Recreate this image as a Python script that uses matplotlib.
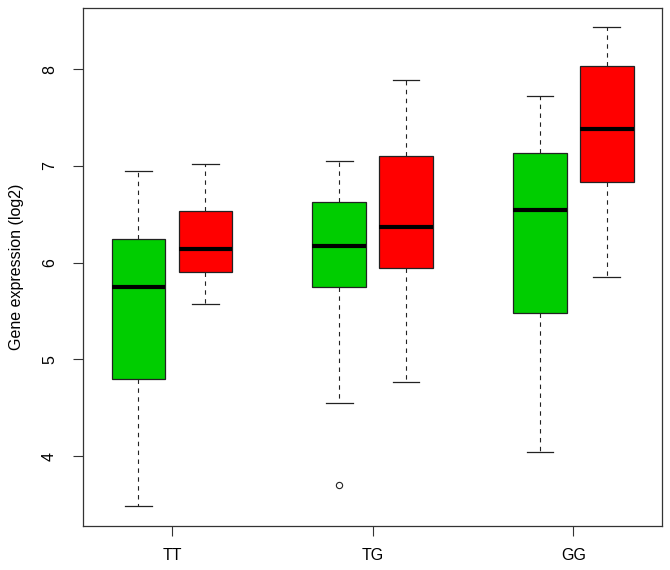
import matplotlib
matplotlib.use("Agg")
import matplotlib.pyplot as plt

# genotype groups and box statistics (log2 expression)
groups = ["TT", "TG", "GG"]
colors = ["#00CD00", "#FF0000"]

green_whislo = [3.48, 4.55, 4.04]
green_q1 = [4.80, 5.745, 5.48]
green_med = [5.75, 6.17, 6.545]
green_q3 = [6.245, 6.63, 7.13]
green_whishi = [6.95, 7.055, 7.72]
green_fliers = [[], [3.70], []]

red_whislo = [5.57, 4.77, 5.85]
red_q1 = [5.90, 5.945, 6.835]
red_med = [6.14, 6.37, 7.38]
red_q3 = [6.53, 7.10, 8.03]
red_whishi = [7.02, 7.89, 8.44]
red_fliers = [[], [], []]

plt.rcParams['font.family'] = ['Liberation Sans', 'DejaVu Sans']

fig = plt.figure(figsize=(6.7, 5.7), dpi=100)
ax = fig.add_axes([0.1243, 0.0777, 0.8633, 0.9077])


def make_stats(lo, q1, med, q3, hi, fl):
    return [dict(whislo=a, q1=b, med=c, q3=d, whishi=e, fliers=f)
            for a, b, c, d, e, f in zip(lo, q1, med, q3, hi, fl)]


green_stats = make_stats(green_whislo, green_q1, green_med, green_q3, green_whishi, green_fliers)
red_stats = make_stats(red_whislo, red_q1, red_med, red_q3, red_whishi, red_fliers)

green_pos = [1 + 3 * i for i in range(len(groups))]
red_pos = [2 + 3 * i for i in range(len(groups))]

for stats, pos, col in [(green_stats, green_pos, colors[0]), (red_stats, red_pos, colors[1])]:
    ax.bxp(stats, positions=pos, widths=0.8, patch_artist=True,
           boxprops=dict(facecolor=col, edgecolor='#222222', linewidth=0.9),
           medianprops=dict(color='black', linewidth=3.0, solid_capstyle='butt'),
           whiskerprops=dict(color='#222222', linewidth=0.8, linestyle=(0, (4, 4))),
           capprops=dict(color='#222222', linewidth=0.9),
           capwidths=0.4,
           flierprops=dict(marker='o', markerfacecolor='none', markeredgecolor='#222222',
                           markersize=4.5, markeredgewidth=0.8))

ax.set_xlim(0.175, 8.82)
ax.set_ylim(3.28, 8.63)
ax.set_xticks([1.5 + 3 * i for i in range(len(groups))])
ax.set_xticklabels(groups, fontsize=11.5)
ax.set_yticks([4, 5, 6, 7, 8])
ax.set_yticklabels(["4", "5", "6", "7", "8"], fontsize=11.5, rotation=90, va='center')
ax.tick_params(axis='both', length=7, width=0.8, color='#333333', pad=9)
ax.tick_params(axis='y', pad=12)
ax.set_ylabel("Gene expression (log2)", fontsize=11.5, labelpad=13)
for s in ax.spines.values():
    s.set_linewidth(0.9)
    s.set_color('#333333')

fig.savefig("out.png", dpi=100)
